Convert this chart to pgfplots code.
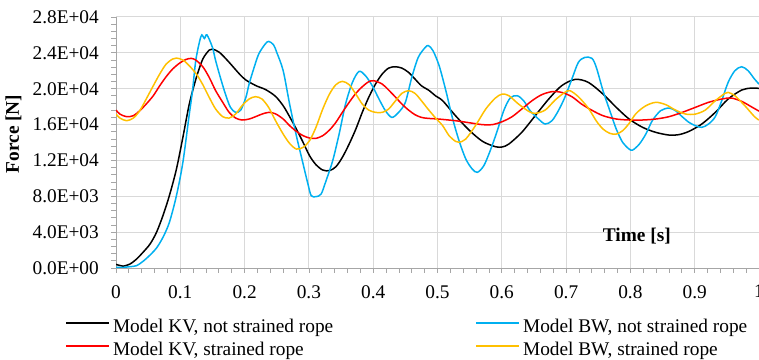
\documentclass[border=0pt]{standalone}
\usepackage{pgfplots}
\pgfplotsset{compat=1.18}
\usepackage{fontspec}
\setmainfont{Liberation Serif}
\definecolor{bwblue}{RGB}{0,176,240}
\definecolor{kvred}{RGB}{255,0,0}
\definecolor{bwyellow}{RGB}{255,192,0}
\definecolor{axgray}{RGB}{166,166,166}
\definecolor{gridgray}{RGB}{217,217,217}
\newcommand{\fs}{\fontsize{19.4}{23}\selectfont}
\begin{document}
\begin{tikzpicture}
\begin{axis}[
  at={(116bp,92bp)}, anchor=south west,
  scale only axis, width=643bp, height=251bp,
  xmin=0, xmax=1, ymin=0, ymax=28000,
  axis x line*=bottom, axis y line*=left,
  axis line style={axgray, line width=1bp},
  scaled y ticks=false, scaled x ticks=false,
  xtick={0,0.1,0.2,0.3,0.4,0.5,0.6,0.7,0.8,0.9,1},
  xticklabels={0,0.1,0.2,0.3,0.4,0.5,0.6,0.7,0.8,0.9,1},
  ytick={0,4000,8000,12000,16000,20000,24000,28000},
  yticklabels={0.0E+00,4.0E+03,8.0E+03,1.2E+04,1.6E+04,2.0E+04,2.4E+04,2.8E+04},
  minor x tick num=4, minor y tick num=4,
  tick align=outside, major tick length=5bp, minor tick length=5bp,
  tick style={axgray, line width=0.8bp},
  grid=major, major grid style={gridgray, line width=1bp},
  tick label style={font=\fs},
  yticklabel style={inner sep=0pt, xshift=-12bp},
  xticklabel style={inner sep=0pt, yshift=-12bp},
  xlabel={\bfseries Time [s]},
  xlabel style={at={(axis description cs:0.81,0.127)}, anchor=center, font=\fs},
  ylabel={\bfseries Force [N]},
  ylabel style={at={(axis description cs:-0.1594,0.534)}, anchor=center, font=\fs},
  legend columns=2, legend cell align=left,
  legend style={at={(axis description cs:-0.0793,-0.203)}, anchor=north west,
    draw=none, fill=none, font=\fs, inner sep=0pt, row sep=6bp,
    nodes={inner sep=0pt, text height=13bp, text depth=4bp},
    /tikz/every odd column/.append style={column sep=3bp},
    /tikz/every even column/.append style={column sep=142bp}},
  legend image code/.code={\draw[#1, line width=1.8bp] (0bp,5bp) -- (43bp,5bp);},
  every axis plot/.append style={line width=1.5bp, smooth, tension=0.5},
]
\addplot[black] coordinates {
(0,400) (0.005,300) (0.011,200) (0.022,450) (0.032,1000) (0.042,1750) (0.053,2680) (0.063,3980)
(0.073,5840) (0.083,8070) (0.094,11040) (0.104,14570) (0.114,18290) (0.125,21260) (0.135,23310)
(0.145,24310) (0.150,24420) (0.161,24050) (0.176,22940) (0.192,21640) (0.202,20970) (0.218,20330)
(0.233,19890) (0.248,19150) (0.260,18100) (0.270,16880) (0.2805,15500) (0.291,14010) (0.301,12530)
(0.311,11520) (0.3215,10930) (0.332,10860) (0.342,11300) (0.352,12340) (0.3626,13830) (0.373,15500)
(0.383,17360) (0.393,19030) (0.4036,20520) (0.414,21640) (0.424,22300) (0.434,22450) (0.4446,22300)
(0.455,21820) (0.465,21080) (0.475,20330) (0.487,19800) (0.497,19200) (0.508,18660) (0.528,16990)
(0.549,15390) (0.570,14130) (0.590,13530) (0.6005,13500) (0.611,13830) (0.631,15130) (0.652,16990)
(0.673,18850) (0.693,20330) (0.714,21040) (0.7345,20710) (0.7574,19400) (0.778,17920) (0.798,16620)
(0.819,15690) (0.8395,15130) (0.860,14830) (0.875,14870) (0.891,15240) (0.911,16060) (0.932,17360)
(0.952,18850) (0.973,19850) (0.988,20070) (1.0,20040)
};
\addlegendentry{Model KV, not strained rope}
\addplot[bwblue] coordinates {
(0,75) (0.011,75) (0.022,150) (0.032,260) (0.042,740) (0.052,1380) (0.063,2230) (0.073,3420)
(0.083,5090) (0.094,8070) (0.104,11780) (0.114,17170) (0.119,19780) (0.124,23120) (0.13,25280)
(0.1335,26000) (0.1375,25600) (0.1415,26000) (0.15,24610) (0.155,23120) (0.163,21080) (0.171,19220)
(0.178,17920) (0.186,17360) (0.194,17620) (0.202,19030) (0.207,20520) (0.214,22190) (0.222,23870)
(0.232,24980) (0.2375,25280) (0.245,24900) (0.25,24050) (0.26,22010) (0.27,18290) (0.2805,14760)
(0.291,11600) (0.2985,9370) (0.3036,8070) (0.311,7960) (0.319,8250) (0.3267,9740) (0.337,11970)
(0.347,14940) (0.357,18290) (0.3677,20710) (0.378,21930) (0.388,21450) (0.3985,20330) (0.409,18850)
(0.419,17550) (0.429,16800) (0.4395,17360) (0.45,18480) (0.46,21260) (0.47,23490) (0.481,24610)
(0.486,24800) (0.493,24240) (0.5026,22560) (0.513,19780) (0.523,16800) (0.5335,14200) (0.544,12160)
(0.554,11040) (0.562,10670) (0.572,11410) (0.582,13090) (0.593,15320) (0.603,17550) (0.613,18960)
(0.624,19220) (0.634,18660) (0.644,17550) (0.657,16620) (0.6675,16060) (0.678,16430) (0.688,17550)
(0.698,19030) (0.709,21080) (0.719,22930) (0.729,23490) (0.74,23400) (0.747,22380) (0.7574,19780)
(0.768,17550) (0.778,15500) (0.788,14010) (0.798,13270) (0.8036,13160) (0.814,13830) (0.824,14940)
(0.834,16430) (0.847,17550) (0.86,17840) (0.870,17550) (0.8805,16880) (0.891,16250) (0.901,15880)
(0.911,15690) (0.9215,16060) (0.932,16880) (0.942,18660) (0.952,20710) (0.9625,22010) (0.973,22450)
(0.983,22010) (0.993,21080) (1.0,20520)
};
\addlegendentry{Model BW, not strained rope}
\addplot[kvred] coordinates {
(0,17620) (0.006,17170) (0.0165,16880) (0.027,16990) (0.037,17550) (0.047,18290) (0.058,19220)
(0.068,20330) (0.078,21340) (0.088,22190) (0.099,22860) (0.109,23270) (0.117,23380) (0.124,23200)
(0.135,22450) (0.145,21260) (0.155,19780) (0.166,18480) (0.176,17360) (0.186,16730) (0.196,16510)
(0.207,16620) (0.217,16880) (0.227,17170) (0.2375,17360) (0.248,17200) (0.26,16620) (0.27,15880)
(0.2805,15240) (0.291,14760) (0.301,14500) (0.311,14460) (0.3215,14760) (0.332,15390) (0.342,16250)
(0.352,17360) (0.3626,18480) (0.373,19480) (0.383,20220) (0.393,20780) (0.401,20890) (0.414,20520)
(0.424,19850) (0.434,19110) (0.4446,18290) (0.455,17620) (0.465,17100) (0.475,16800) (0.4856,16690)
(0.501,16620) (0.528,16430) (0.549,16210) (0.570,15990) (0.585,15990) (0.6005,16320) (0.616,16880)
(0.631,17730) (0.647,18660) (0.662,19330) (0.678,19670) (0.693,19590) (0.709,19110) (0.724,18290)
(0.740,17600) (0.7574,16990) (0.778,16620) (0.798,16510) (0.819,16510) (0.8395,16620) (0.860,16880)
(0.8805,17360) (0.901,17920) (0.9215,18480) (0.942,18850) (0.957,18960) (0.973,18590) (0.988,17990)
(1.0,17500)
};
\addlegendentry{Model KV, strained rope}
\addplot[bwyellow] coordinates {
(0,17170) (0.006,16730) (0.0165,16430) (0.027,16730) (0.037,17550) (0.047,18850) (0.058,20330)
(0.068,21640) (0.078,22750) (0.088,23310) (0.094,23420) (0.104,23200) (0.114,22560) (0.125,21640)
(0.135,20450) (0.145,19030) (0.155,17730) (0.166,16880) (0.176,16730) (0.186,17170) (0.196,18100)
(0.207,18850) (0.217,19110) (0.227,18850) (0.2375,17900) (0.248,16450) (0.26,14940) (0.27,13900)
(0.2805,13270) (0.291,13460) (0.301,14200) (0.311,15690) (0.3215,17730) (0.332,19400) (0.342,20450)
(0.352,20820) (0.3626,20450) (0.373,19400) (0.383,18290) (0.393,17620) (0.4036,17360) (0.414,17360)
(0.424,17730) (0.434,18590) (0.4446,19480) (0.455,19780) (0.465,19480) (0.475,18660) (0.4856,17700)
(0.4974,16700) (0.508,15880) (0.518,14760) (0.528,14130) (0.5335,14020) (0.544,14390) (0.559,15880)
(0.575,17730) (0.590,18960) (0.6005,19400) (0.611,19220) (0.626,18290) (0.642,17470) (0.652,17250)
(0.6675,17620) (0.683,18740) (0.698,19590) (0.706,19780) (0.719,19110) (0.7345,17840) (0.747,16400)
(0.7574,15500) (0.768,15020) (0.778,14940) (0.788,15320) (0.798,16130) (0.809,17250) (0.824,18100)
(0.8395,18480) (0.855,18220) (0.870,17620) (0.886,17170) (0.901,17170) (0.9165,17620) (0.932,18660)
(0.947,19480) (0.952,19590) (0.9625,19220) (0.978,18100) (0.993,16880) (1.0,16500)
};
\addlegendentry{Model BW, strained rope}
\end{axis}
\pgfresetboundingbox
\useasboundingbox (0,0) rectangle (759bp,360bp);
\end{tikzpicture}
\end{document}
